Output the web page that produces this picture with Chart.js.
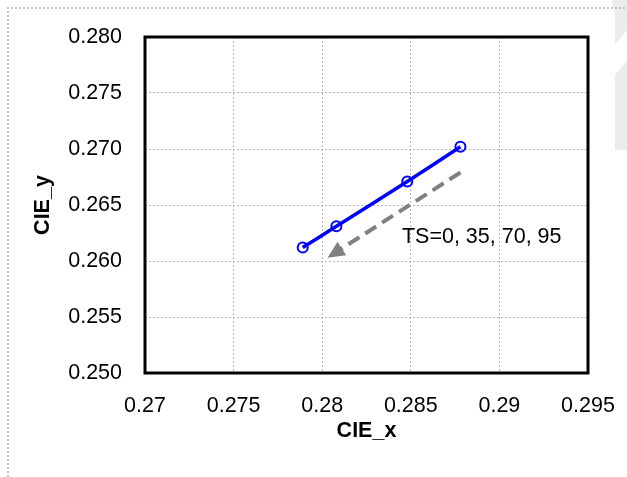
<!DOCTYPE html>
<html>
<head>
<meta charset="utf-8">
<script src="https://cdn.jsdelivr.net/npm/chart.js@4.4.1/dist/chart.umd.min.js"></script>
<style>
  html, body { margin: 0; padding: 0; background: #fff; }
  #wrap { position: relative; width: 627px; height: 477px; }
</style>
</head>
<body>
<div id="wrap"><canvas id="cieChart"></canvas></div>
<script>
  // values
  const cieX = [0.2789, 0.2808, 0.2848, 0.2878];
  const cieY = [0.2612, 0.2631, 0.2671, 0.2702];
  const arrowX = [0.2878, 0.2803];
  const arrowY = [0.2679, 0.2603];
  const xTicks = [0.27, 0.275, 0.28, 0.285, 0.29, 0.295];
  const yTicks = [0.25, 0.255, 0.26, 0.265, 0.27, 0.275, 0.28];
  const noteText = "TS=0, 35, 70, 95";
  const notePos = { x: 0.2845, y: 0.2621 };

  const fontFamily = "'Liberation Sans', Arial, sans-serif";
  const fontSize = 21.5;

  // frame, border, arrowhead and note
  const decorPlugin = {
    id: "decor",
    beforeDraw(chart) {
      const ctx = chart.ctx;
      ctx.save();
      // light page shadow top right
      ctx.fillStyle = "#ececec";
      ctx.beginPath();
      ctx.moveTo(612, 0); ctx.lineTo(627, 0); ctx.lineTo(627, 150);
      ctx.lineTo(615, 150); ctx.lineTo(615, 17); ctx.closePath();
      ctx.fill();
      ctx.fillStyle = "#fff";
      ctx.beginPath();
      ctx.moveTo(615, 45); ctx.lineTo(627, 30); ctx.lineTo(627, 60);
      ctx.lineTo(615, 75); ctx.closePath();
      ctx.fill();
      // dotted outer frame
      ctx.strokeStyle = "#c4c4c4";
      ctx.lineWidth = 2;
      ctx.setLineDash([2, 2]);
      ctx.beginPath();
      ctx.moveTo(8, 477); ctx.lineTo(8, 8); ctx.lineTo(627, 8);
      ctx.stroke();
      ctx.restore();
    },
    beforeDatasetsDraw(chart) {
      const { ctx, chartArea: a } = chart;
      ctx.save();
      ctx.strokeStyle = "#000";
      ctx.lineWidth = 3;
      ctx.strokeRect(a.left, a.top, a.right - a.left, a.bottom - a.top);
      ctx.restore();
    },
    afterDatasetsDraw(chart) {
      const { ctx, scales } = chart;
      const meta = chart.getDatasetMeta(1);
      const p0 = meta.data[0], p1 = meta.data[1];
      const ang = Math.atan2(p1.y - p0.y, p1.x - p0.x);
      const len = 17, half = 8;
      ctx.save();
      ctx.fillStyle = "#808080";
      ctx.translate(p1.x, p1.y);
      ctx.rotate(ang);
      ctx.beginPath();
      ctx.moveTo(0, 0);
      ctx.lineTo(-len, -half);
      ctx.lineTo(-len, half);
      ctx.closePath();
      ctx.fill();
      ctx.restore();

      ctx.save();
      ctx.fillStyle = "#000";
      ctx.font = fontSize + "px " + fontFamily;
      ctx.textAlign = "left";
      ctx.textBaseline = "middle";
      ctx.fillText(noteText, scales.x.getPixelForValue(notePos.x), scales.y.getPixelForValue(notePos.y));
      ctx.restore();
    }
  };

  const fmtX = (v) => String(Math.round(v * 1000) / 1000);
  const fmtY = (v) => (Math.round(v * 1000) / 1000).toFixed(3);

  new Chart(document.getElementById("cieChart"), {
    type: "scatter",
    data: {
      datasets: [
        {
          label: "CIE",
          data: cieX.map((x, i) => ({ x: x, y: cieY[i] })),
          showLine: true,
          borderColor: "#0000ff",
          borderWidth: 3.5,
          tension: 0.3,
          pointStyle: "circle",
          pointRadius: 5,
          pointBorderWidth: 2,
          pointBorderColor: "#0000ff",
          pointBackgroundColor: "rgba(255,255,255,0)",
          order: 1
        },
        {
          label: "arrow",
          data: arrowX.map((x, i) => ({ x: x, y: arrowY[i] })),
          showLine: true,
          borderColor: "#808080",
          borderWidth: 4,
          borderDash: [13, 7],
          pointRadius: 0,
          order: 2
        }
      ]
    },
    options: {
      responsive: true,
      maintainAspectRatio: false,
      animation: false,
      devicePixelRatio: 1,
      layout: { padding: { left: 0, top: 37, right: 39, bottom: 0 } },
      plugins: {
        legend: { display: false },
        tooltip: { enabled: false }
      },
      scales: {
        x: {
          type: "linear",
          min: 0.27,
          max: 0.295,
          afterBuildTicks: (s) => { s.ticks = xTicks.map((v) => ({ value: v })); },
          afterFit: (s) => { s.height = 104; s.paddingLeft = 0; s.paddingRight = 0; },
          ticks: {
            callback: (v) => fmtX(v),
            color: "#000",
            padding: 20,
            maxRotation: 0,
            font: { family: fontFamily, size: fontSize }
          },
          grid: { color: "#b4b4b4", lineWidth: 1, drawTicks: false },
          border: { display: false, dash: [2, 2] },
          title: {
            display: true,
            text: "CIE_x",
            color: "#000",
            padding: { top: 0, bottom: 33 },
            font: { family: fontFamily, size: fontSize, weight: "bold" }
          }
        },
        y: {
          type: "linear",
          min: 0.25,
          max: 0.28,
          afterBuildTicks: (s) => { s.ticks = yTicks.map((v) => ({ value: v })); },
          afterFit: (s) => { s.width = 145; s.paddingTop = 0; s.paddingBottom = 0; },
          ticks: {
            callback: (v) => fmtY(v),
            color: "#000",
            padding: 23,
            font: { family: fontFamily, size: fontSize }
          },
          grid: { color: "#b4b4b4", lineWidth: 1, drawTicks: false },
          border: { display: false, dash: [2, 2] },
          title: {
            display: true,
            text: "CIE_y",
            color: "#000",
            padding: { top: 30, bottom: 0 },
            font: { family: fontFamily, size: fontSize, weight: "bold" }
          }
        }
      }
    },
    plugins: [decorPlugin]
  });
</script>
</body>
</html>
